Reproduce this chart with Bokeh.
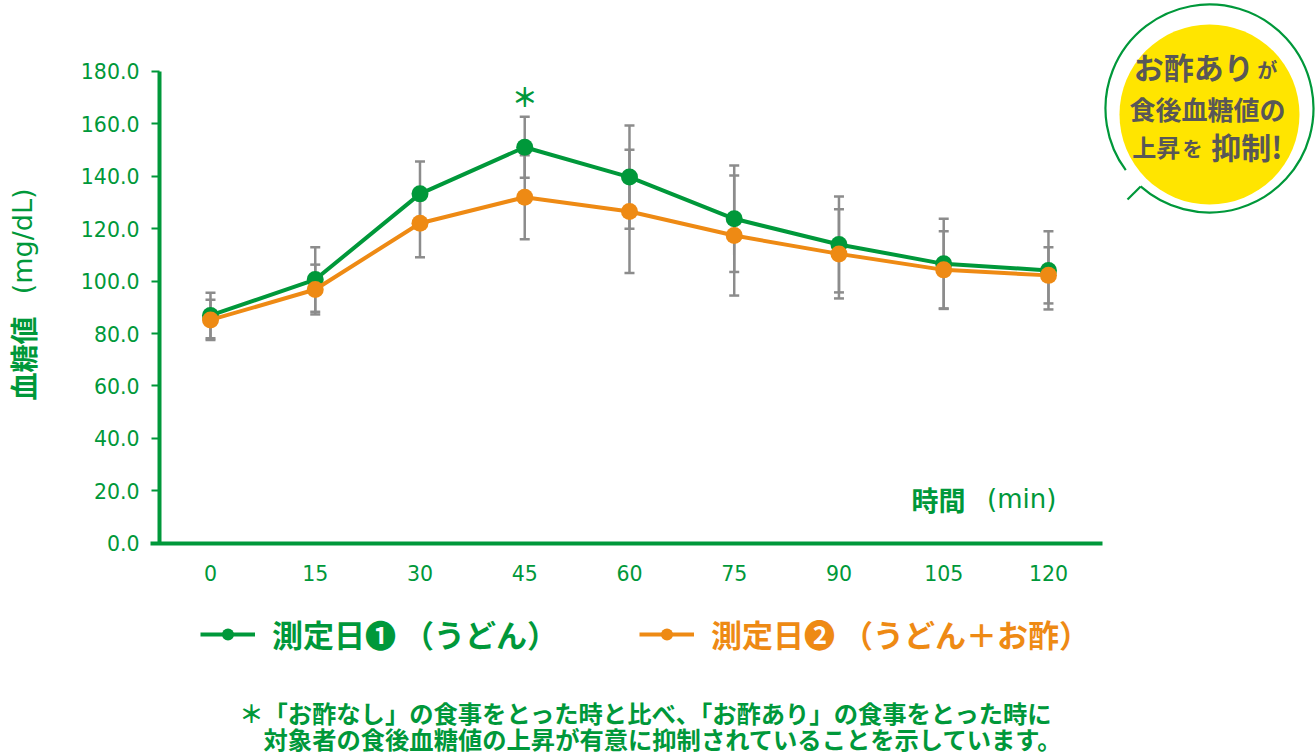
from bokeh.plotting import figure
from bokeh.models import Range1d, FixedTicker, PrintfTickFormatter, Label, Legend, LegendItem, LinearAxis
from bokeh.core.properties import value
from bokeh.embed import file_html
from bokeh.resources import INLINE

# ---------------- data ----------------
time_min = [0, 15, 30, 45, 60, 75, 90, 105, 120]
day1_mean = [86.9, 100.6, 133.3, 151.1, 139.7, 123.8, 114.0, 106.6, 104.1]
day1_sd = [8.7, 12.3, 12.4, 11.6, 19.7, 20.3, 18.3, 17.2, 14.9]
day2_mean = [85.2, 96.8, 122.1, 132.0, 126.6, 117.4, 110.4, 104.3, 102.2]
day2_sd = [7.7, 9.5, 13.0, 16.0, 23.5, 22.9, 17.0, 14.7, 10.7]
y_ticks = [0, 20, 40, 60, 80, 100, 120, 140, 160, 180]
x_ticks = [0, 15, 30, 45, 60, 75, 90, 105, 120]
legend_labels = ["測定日❶ （うどん）", "測定日❷ （うどん＋お酢）"]
signif_time = [45]
signif_mark = ["＊"]
footnote = ["＊「お酢なし」の食事をとった時と比べ、「お酢あり」の食事をとった時に",
            "対象者の食後血糖値の上昇が有意に抑制されていることを示しています。"]

GREEN = "#00983A"
ORANGE = "#EE8A14"
GRAY = "#8C8C8C"
YELLOW = "#FFE500"
DARK = "#595757"
JP = "Noto Sans CJK JP"
NUM = "DejaVu Sans"

p = figure(width=1316, height=756, output_backend="svg", toolbar_location=None,
           x_range=Range1d(-30.073, 158.385), y_range=Range1d(-81.394, 207.090),
           x_axis_type=None, y_axis_type=None,
           min_border_left=0, min_border_right=0, min_border_top=0, min_border_bottom=0)
p.outline_line_color = None
p.background_fill_color = "white"
p.border_fill_color = "white"

# axes (placed at fixed data locations inside the canvas)
xa = LinearAxis(fixed_location=0, ticker=FixedTicker(ticks=x_ticks), bounds=(-8.6, 127.7))
xa.axis_line_color = GREEN
xa.axis_line_width = 4
xa.major_tick_line_color = None
xa.minor_tick_line_color = None
xa.major_label_text_color = GREEN
xa.major_label_text_font = NUM
xa.major_label_text_font_size = "20.5px"
xa.major_label_standoff = 16
p.add_layout(xa, "below")

ya = LinearAxis(fixed_location=-7.3, ticker=FixedTicker(ticks=y_ticks),
                formatter=PrintfTickFormatter(format="%.1f"), bounds=(0, 180))
ya.axis_line_color = GREEN
ya.axis_line_width = 4
ya.major_tick_line_color = GREEN
ya.major_tick_line_width = 2
ya.major_tick_out = 8
ya.major_tick_in = 0
ya.minor_tick_line_color = None
ya.major_label_text_color = GREEN
ya.major_label_text_font = NUM
ya.major_label_text_font_size = "20.5px"
ya.major_label_standoff = 12
p.add_layout(ya, "left")

# error bars
for mean, sd in ((day1_mean, day1_sd), (day2_mean, day2_sd)):
    up = [m + s for m, s in zip(mean, sd)]
    lo = [m - s for m, s in zip(mean, sd)]
    p.segment(x0=time_min, y0=lo, x1=time_min, y1=up, line_color=GRAY, line_width=2.5)
    p.scatter(x=time_min, y=up, marker="dash", size=10, line_color=GRAY, line_width=2.5)
    p.scatter(x=time_min, y=lo, marker="dash", size=10, line_color=GRAY, line_width=2.5)

# series
l1 = p.line(time_min, day1_mean, line_color=GREEN, line_width=4)
s1 = p.scatter(time_min, day1_mean, size=17, fill_color=GREEN, line_color=None)
l2 = p.line(time_min, day2_mean, line_color=ORANGE, line_width=4)
s2 = p.scatter(time_min, day2_mean, size=17, fill_color=ORANGE, line_color=None)

# significance mark
p.text(x=signif_time, y=[171.0], text=signif_mark, text_font=value(JP), text_font_style="bold",
       text_font_size="26px", text_color=GREEN, text_align="center", text_baseline="middle")

# x axis title
p.text(x=[100.4], y=[16.7], text=["時間"], text_font=value(JP), text_font_style="bold",
       text_font_size="27px", text_color=GREEN, text_align="left", text_baseline="middle")
p.text(x=[111.2], y=[16.9], text=["(min)"], text_font=value(NUM),
       text_font_size="26px", text_color=GREEN, text_align="left", text_baseline="middle")

# y axis title
p.add_layout(Label(x=-26.92, y=54.45, text="血糖値", angle=90, angle_units="deg",
                   text_align="left", text_baseline="middle", text_font=JP,
                   text_font_style="bold", text_font_size="28px", text_color=GREEN))
p.add_layout(Label(x=-26.92, y=95.0, text="(mg/dL)", angle=90, angle_units="deg",
                   text_align="left", text_baseline="middle", text_font=NUM,
                   text_font_size="27px", text_color=GREEN))

# callout bubble
p.scatter(x=[143.06], y=[163.59], marker="circle", size=180, fill_color=YELLOW, line_color=None)
p.arc(x=[143.06], y=[165.88], radius=104, radius_units="screen", start_angle=228.5, end_angle=216.4,
      start_angle_units="deg", end_angle_units="deg", direction="anticlock",
      line_color=GREEN, line_width=2.2)
p.segment(x0=[133.20], y0=[136.15], x1=[131.32], y1=[131.15], line_color=GREEN, line_width=2.2)

bub_txt = [("お酢あり", 132.2, 182.0, "30px"), ("が", 149.9, 180.6, "20px"),
           ("食後血糖値の", 131.6, 165.9, "26px"),
           ("上昇", 132.0, 151.4, "24px"), ("を", 139.2, 150.6, "20px"), ("抑制!", 143.3, 151.4, "30px")]
for t, x, y, fs in bub_txt:
    p.text(x=[x], y=[y], text=[t], text_font=value(JP), text_font_style="bold",
           text_font_size=fs, text_color=DARK, text_align="left", text_baseline="middle")

# legends
for lab, rends, col, loc in ((legend_labels[0], [l1, s1], GREEN, (200, 100)),
                             (legend_labels[1], [l2, s2], ORANGE, (639, 100))):
    leg = Legend(items=[LegendItem(label=lab, renderers=rends)], location=loc,
                 orientation="horizontal", border_line_color=None, background_fill_alpha=0,
                 padding=0, margin=0, glyph_width=55, glyph_height=30, label_height=30,
                 label_standoff=17, label_text_font=JP, label_text_font_size="31px",
                 label_text_font_style="bold", label_text_color=col, label_text_baseline="middle")
    p.add_layout(leg)

# footnote
p.text(x=[4.1, 7.6], y=[-64.7, -74.6], text=footnote, text_align="left", text_baseline="middle",
       text_font=value(JP), text_font_style="bold", text_font_size="24.3px", text_color=GREEN)

open("out.html", "w").write(file_html(p, INLINE))
